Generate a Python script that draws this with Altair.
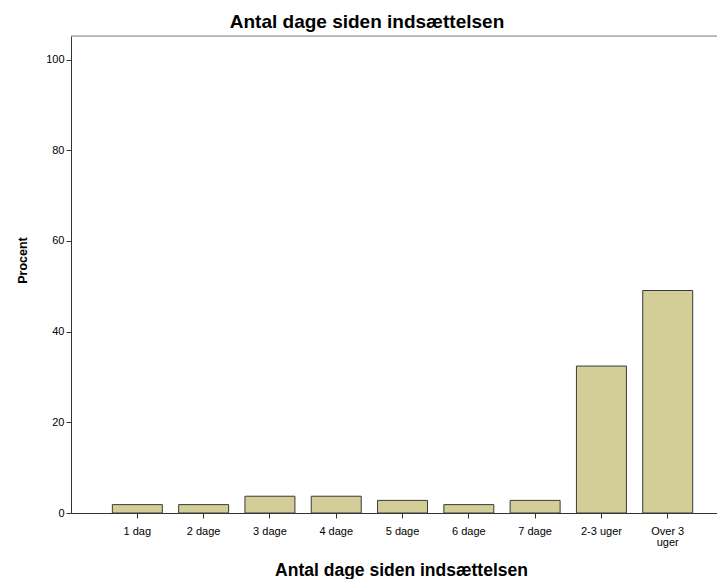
import altair as alt
import pandas as pd

categories = ["1 dag", "2 dage", "3 dage", "4 dage", "5 dage", "6 dage", "7 dage", "2-3 uger", "Over 3 uger"]
percent = [1.85, 1.85, 3.70, 3.70, 2.78, 1.85, 2.78, 32.41, 49.07]
y_ticks = [0, 20, 40, 60, 80, 100]

df = pd.DataFrame({"kategori": categories, "procent": percent})

FONT = "Liberation Sans"
W = 646
H = 477

bars = alt.Chart(df).mark_bar(
    color="#D3CE97", stroke="#3a3a3a", strokeWidth=1
).encode(
    x=alt.X(
        "kategori:N",
        sort=categories,
        title="Antal dage siden indsættelsen",
        scale=alt.Scale(paddingInner=0.246, paddingOuter=0.495, align=0.63),
        axis=alt.Axis(
            labelAngle=0,
            labelFont=FONT,
            labelFontSize=11,
            labelColor="#000000",
            labelPadding=7,
            labelLineHeight=11,
            labelExpr="datum.label == 'Over 3 uger' ? ['Over 3', 'uger'] : datum.label",
            tickSize=5,
            tickColor="#333333",
            domainColor="#333333",
            titleFont=FONT,
            titleFontSize=17.5,
            titleFontWeight="bold",
            titleColor="#000000",
            titleX=330,
            titleY=62,
            titleBaseline="alphabetic",
        ),
    ),
    y=alt.Y(
        "procent:Q",
        title="Procent",
        scale=alt.Scale(domain=[0, 105.2], nice=False, zero=True),
        axis=alt.Axis(
            values=y_ticks,
            grid=False,
            labelFont=FONT,
            labelFontSize=11,
            labelColor="#000000",
            labelPadding=2,
            tickSize=5,
            tickColor="#333333",
            domainColor="#333333",
            titleFont=FONT,
            titleFontSize=12.5,
            titleFontWeight="bold",
            titleColor="#000000",
            titleX=-45,
            titleY=224,
            titleBaseline="alphabetic",
        ),
    ),
)

top_border = alt.Chart(pd.DataFrame({"k": [0]})).mark_rule(
    color="#8a8a8a", strokeWidth=1
).encode(x=alt.value(0), x2=alt.value(W), y=alt.value(0))

chart = alt.layer(bars, top_border).properties(
    width=W,
    height=H,
    title=alt.TitleParams(
        "Antal dage siden indsættelsen",
        font=FONT,
        fontSize=19,
        fontWeight="bold",
        color="#000000",
        offset=4,
        dx=-27,
    ),
    autosize=alt.AutoSizeParams(type="none"),
    padding={"left": 63, "top": 28, "right": 0, "bottom": 70},
).configure_view(
    fill="#F0F0F0", strokeWidth=0
).configure(background="#FFFFFF")

chart.save("out.html", embed_options={"renderer": "svg", "actions": False})
